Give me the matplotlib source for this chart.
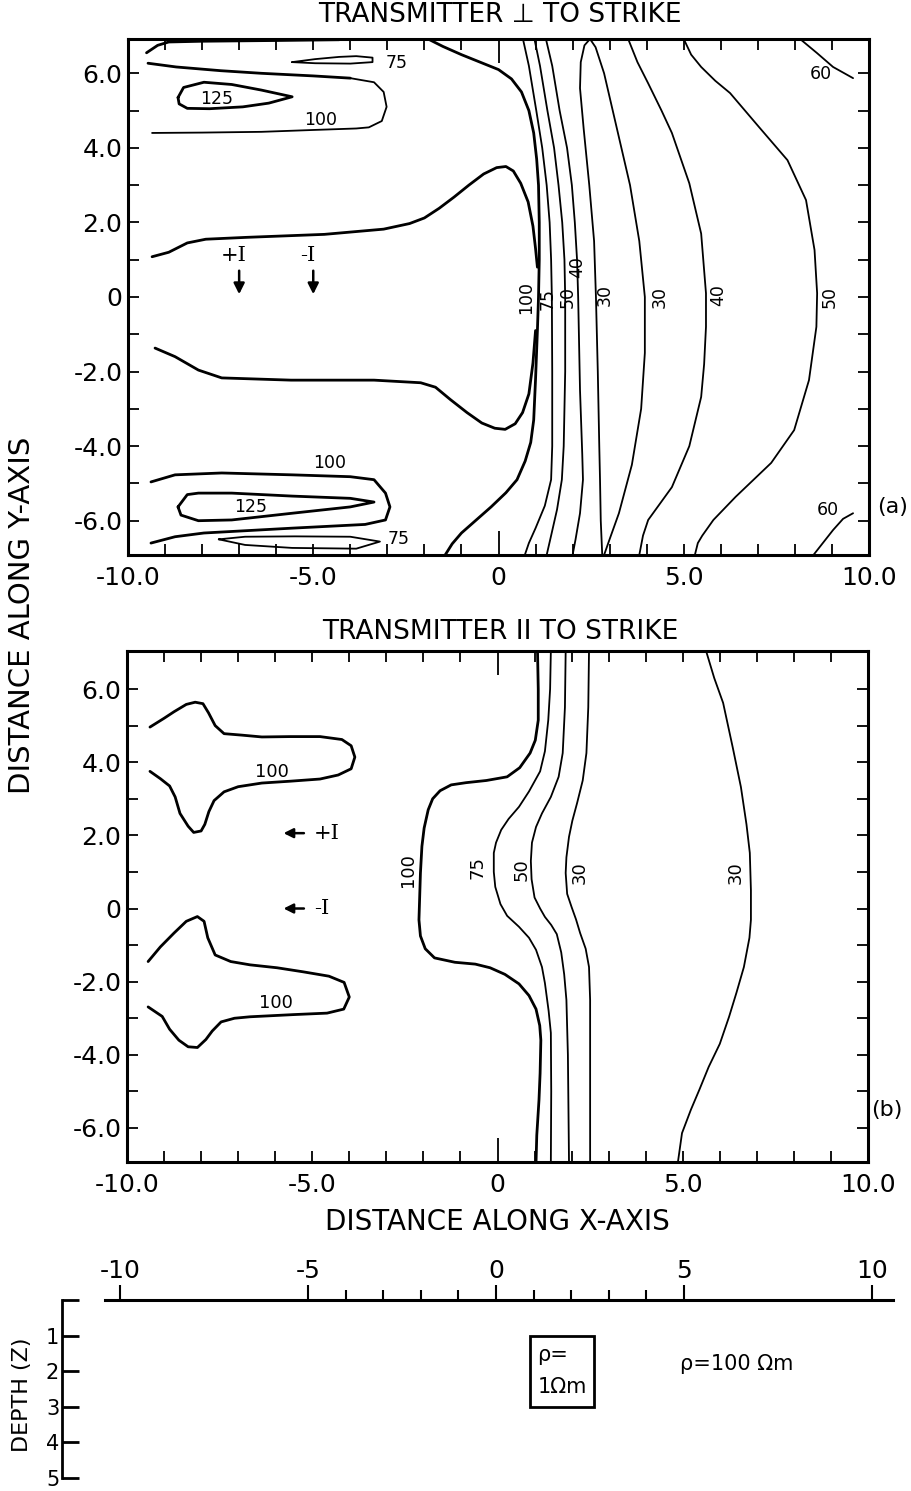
import numpy as np
import matplotlib.pyplot as plt
from matplotlib.patches import Rectangle

# ---- panel (a): transmitter perpendicular to strike, contour lines ----
a_100_edge = [(-9.5, 6.55), (-9.2, 6.75), (-8.9, 6.84), (-8.0, 6.86), (-6.0, 6.88), (-4.3, 6.9)]
a_100_upper_thick = [(-9.46, 6.27), (-8.7, 6.17), (-7.5, 6.07), (-6.4, 6.0), (-5.0, 5.93), (-4.0, 5.87)]
a_100_upper_thin = [(-4.0, 5.87), (-3.36, 5.76), (-3.1, 5.5), (-3.02, 5.1), (-3.15, 4.72), (-3.5, 4.55),
                    (-3.84, 4.52), (-5.0, 4.48), (-6.4, 4.43), (-8.0, 4.41), (-9.35, 4.4)]
a_125_top = [(-8.65, 5.35), (-8.5, 5.62), (-7.95, 5.76), (-7.2, 5.7), (-6.4, 5.55), (-5.57, 5.37),
             (-6.2, 5.2), (-6.9, 5.1), (-7.8, 5.05), (-8.4, 5.06), (-8.62, 5.18), (-8.65, 5.35)]
a_75_top = [(-5.57, 6.3), (-4.95, 6.38), (-4.3, 6.44), (-3.84, 6.46), (-3.4, 6.42), (-3.4, 6.3),
            (-4.0, 6.26), (-4.95, 6.27), (-5.57, 6.3)]
a_100_shield_up = [(-9.35, 1.08), (-8.9, 1.2), (-8.4, 1.45), (-7.9, 1.55), (-6.8, 1.6), (-4.7, 1.68),
                   (-3.1, 1.82), (-2.4, 1.97), (-2.0, 2.12), (-1.6, 2.38), (-1.2, 2.68), (-0.8, 3.0),
                   (-0.4, 3.3), (-0.05, 3.47), (0.2, 3.5), (0.4, 3.38), (0.6, 3.05), (0.8, 2.55),
                   (0.93, 1.9), (1.0, 1.3), (1.05, 0.8)]
a_100_main = [(-1.9, 6.92), (-1.5, 6.72), (-1.0, 6.5), (-0.5, 6.3), (0.0, 6.1), (0.35, 5.85),
              (0.62, 5.5), (0.82, 5.0), (0.95, 4.4), (1.03, 3.7), (1.08, 3.0), (1.1, 2.0), (1.1, 1.0),
              (1.08, 0.0), (1.05, -0.9), (1.0, -2.2), (0.95, -3.3), (0.87, -3.9), (0.72, -4.4),
              (0.5, -4.9), (0.2, -5.25), (-0.2, -5.63), (-0.6, -5.98), (-1.0, -6.33), (-1.25, -6.62),
              (-1.44, -6.92)]
a_100_shield_low = [(-9.27, -1.37), (-8.73, -1.6), (-8.1, -1.96), (-7.47, -2.17), (-5.6, -2.23),
                    (-3.36, -2.23), (-2.1, -2.3), (-1.7, -2.42), (-1.3, -2.75), (-0.85, -3.1),
                    (-0.45, -3.38), (-0.1, -3.52), (0.18, -3.55), (0.45, -3.4), (0.65, -3.1),
                    (0.82, -2.6), (0.93, -1.77), (1.0, -0.9)]
a_100_bottom = [(-9.38, -4.96), (-8.73, -4.77), (-7.47, -4.72), (-5.57, -4.77), (-4.0, -4.82),
                (-3.36, -4.9), (-3.05, -5.26), (-2.93, -5.63), (-3.05, -5.98), (-3.6, -6.1),
                (-5.57, -6.2), (-7.95, -6.33), (-8.73, -6.43), (-9.38, -6.6)]
a_125_bottom = [(-8.65, -5.63), (-8.4, -5.3), (-8.1, -5.26), (-7.2, -5.26), (-5.57, -5.34), (-4.0, -5.4),
                (-3.36, -5.5), (-4.0, -5.63), (-5.57, -5.8), (-7.2, -5.98), (-8.1, -6.0),
                (-8.57, -5.85), (-8.65, -5.63)]
a_75_bottom = [(-7.55, -6.5), (-6.84, -6.43), (-5.5, -6.42), (-4.0, -6.43), (-3.2, -6.56),
               (-3.84, -6.75), (-5.57, -6.73), (-6.84, -6.65), (-7.55, -6.5)]
a_75 = [(0.66, 6.92), (0.82, 6.2), (1.02, 5.0), (1.18, 4.0), (1.3, 3.0), (1.38, 2.0), (1.42, 1.0),
        (1.44, 0.0), (1.45, -2.0), (1.45, -4.0), (1.42, -4.9), (1.25, -5.6), (1.0, -6.2),
        (0.82, -6.6), (0.71, -6.92)]
a_50 = [(0.97, 6.92), (1.12, 6.2), (1.32, 5.0), (1.5, 4.0), (1.62, 3.0), (1.72, 2.0), (1.78, 1.0),
        (1.8, 0.0), (1.8, -2.0), (1.76, -4.0), (1.71, -4.9), (1.58, -5.7), (1.42, -6.4), (1.3, -6.92)]
a_40 = [(1.28, 6.92), (1.45, 6.2), (1.65, 5.0), (1.85, 4.0), (1.98, 3.0), (2.06, 2.0), (2.12, 1.0),
        (2.15, 0.0), (2.2, -2.5), (2.26, -4.2), (2.28, -4.9), (2.2, -5.8), (2.08, -6.5), (2.0, -6.92)]
a_30_loop = [(2.8, -6.92), (2.76, -6.0), (2.74, -4.9), (2.72, -4.0), (2.68, -2.0), (2.63, 0.0),
             (2.58, 1.5), (2.45, 3.0), (2.3, 4.5), (2.2, 5.6), (2.22, 6.3), (2.32, 6.75), (2.47, 6.92),
             (2.62, 6.7), (2.85, 6.0), (3.2, 4.5), (3.55, 3.0), (3.8, 1.5), (3.95, 0.0), (3.95, -1.5),
             (3.85, -3.0), (3.6, -4.5), (3.25, -5.8), (2.98, -6.55), (2.85, -6.92)]
a_40_right = [(3.5, 6.92), (3.75, 6.3), (4.04, 5.73), (4.4, 5.0), (4.68, 4.4), (5.15, 3.05),
              (5.47, 1.7), (5.6, 0.1), (5.6, -0.8), (5.55, -1.8), (5.47, -2.68), (5.15, -4.0),
              (4.68, -5.1), (4.04, -5.98), (3.9, -6.4), (3.8, -6.92)]
a_50_right = [(5.0, 6.92), (5.2, 6.5), (5.47, 6.17), (5.85, 5.8), (6.25, 5.47), (7.03, 4.56),
              (7.8, 3.67), (8.3, 2.6), (8.53, 1.26), (8.6, 0.1), (8.58, -0.8), (8.38, -2.23),
              (7.98, -3.57), (7.36, -4.45), (6.4, -5.36), (5.8, -5.98), (5.5, -6.4), (5.38, -6.6),
              (5.3, -6.92)]
a_60_top = [(8.14, 6.92), (8.6, 6.54), (9.03, 6.17), (9.57, 5.87)]
a_60_bottom = [(8.5, -6.92), (9.03, -6.25), (9.3, -5.95), (9.57, -5.8)]

a_thick = [a_100_edge, a_100_upper_thick, a_125_top, a_100_shield_up, a_100_main,
           a_100_shield_low, a_100_bottom, a_125_bottom]
a_thin = [a_100_upper_thin, a_75_top, a_75_bottom, a_75, a_50, a_40, a_30_loop,
          a_40_right, a_50_right, a_60_top, a_60_bottom]

# label text, x, y, rotation
a_labels = [("75", -2.75, 6.27, 0), ("125", -7.6, 5.3, 0), ("100", -4.8, 4.75, 0),
            ("60", 8.7, 5.98, 0), ("100", -4.55, -4.45, 0), ("125", -6.7, -5.63, 0),
            ("75", -2.7, -6.5, 0), ("60", 8.9, -5.7, 0),
            ("100", 0.74, 0.0, 90), ("75", 1.32, -0.05, 90), ("50", 1.87, 0.0, 90), ("40", 2.12, 0.8, 90),
            ("30", 2.87, 0.05, 90), ("30", 4.36, 0.0, 90), ("40", 5.93, 0.05, 90), ("50", 8.93, 0.0, 90)]
a_source_x = [-7.0, -5.0]
a_source_txt = ["+I", "-I"]

# ---- panel (b): transmitter parallel to strike ----
b_100_up = [(-9.38, 4.96), (-9.0, 5.2), (-8.73, 5.38), (-8.4, 5.58), (-8.16, 5.64), (-7.95, 5.6),
            (-7.8, 5.35), (-7.62, 5.0), (-7.38, 4.78), (-6.9, 4.74), (-6.36, 4.69), (-5.6, 4.7),
            (-4.79, 4.7), (-4.2, 4.62), (-3.95, 4.45), (-3.85, 4.14), (-3.95, 3.82), (-4.3, 3.65),
            (-4.79, 3.54), (-5.6, 3.48), (-6.36, 3.43), (-7.0, 3.33), (-7.38, 3.19), (-7.65, 2.95),
            (-7.79, 2.65), (-7.9, 2.3), (-8.0, 2.12), (-8.2, 2.08), (-8.35, 2.25), (-8.57, 2.6),
            (-8.7, 3.05), (-8.85, 3.35), (-9.1, 3.55), (-9.38, 3.75)]
b_100_low = [(-9.43, -1.45), (-9.1, -1.05), (-8.73, -0.67), (-8.4, -0.35), (-8.1, -0.22), (-7.92, -0.35),
             (-7.82, -0.8), (-7.62, -1.27), (-7.2, -1.45), (-6.68, -1.54), (-5.95, -1.62),
             (-5.25, -1.73), (-4.55, -1.85), (-4.14, -2.02), (-4.0, -2.42), (-4.15, -2.75),
             (-4.6, -2.86), (-5.5, -2.9), (-6.68, -2.96), (-7.1, -3.0), (-7.46, -3.1), (-7.7, -3.35),
             (-7.87, -3.58), (-8.1, -3.8), (-8.35, -3.78), (-8.6, -3.6), (-8.85, -3.3),
             (-9.05, -2.95), (-9.43, -2.69)]
b_100 = [(1.08, 7.04), (1.1, 6.0), (1.1, 5.15), (1.02, 4.6), (0.88, 4.25), (0.6, 3.85), (0.26, 3.6),
         (-0.3, 3.5), (-0.85, 3.44), (-1.25, 3.38), (-1.55, 3.22), (-1.75, 3.0), (-1.87, 2.7),
         (-1.98, 2.2), (-2.04, 1.7), (-2.08, 0.97), (-2.12, -0.31), (-2.08, -0.75), (-1.95, -1.1),
         (-1.7, -1.35), (-1.15, -1.47), (-0.6, -1.52), (-0.2, -1.62), (0.2, -1.8), (0.58, -2.06),
         (0.85, -2.38), (1.04, -2.75), (1.14, -3.2), (1.17, -3.6), (1.15, -4.5), (1.12, -5.23),
         (1.06, -6.2), (1.04, -6.93)]
b_75 = [(1.44, 7.04), (1.42, 6.0), (1.37, 5.15), (1.28, 4.3), (1.15, 3.75), (0.85, 3.2), (0.58, 2.78),
        (0.3, 2.45), (0.1, 2.15), (-0.04, 1.8), (-0.1, 1.52), (-0.1, 1.0), (-0.06, 0.59),
        (0.08, 0.12), (0.26, -0.2), (0.58, -0.5), (0.85, -0.8), (1.04, -1.13), (1.2, -1.6),
        (1.28, -2.04), (1.38, -2.8), (1.44, -3.4), (1.45, -5.0), (1.44, -6.93)]
b_50 = [(1.84, 7.04), (1.82, 5.5), (1.76, 4.25), (1.65, 3.6), (1.44, 3.05), (1.2, 2.6), (1.04, 2.23),
        (0.93, 1.8), (0.9, 1.3), (0.92, 0.8), (1.0, 0.3), (1.15, 0.0), (1.28, -0.23), (1.45, -0.45),
        (1.6, -0.7), (1.72, -1.2), (1.8, -1.8), (1.86, -2.5), (1.9, -4.0), (1.93, -6.93)]
b_30 = [(2.47, 7.04), (2.45, 5.5), (2.4, 4.25), (2.3, 3.5), (2.15, 2.89), (2.02, 2.4), (1.93, 1.96),
        (1.86, 1.4), (1.84, 0.97), (1.88, 0.4), (2.0, 0.04), (2.12, -0.3), (2.23, -0.67),
        (2.38, -1.1), (2.47, -1.6), (2.5, -2.5), (2.5, -6.93)]
b_30_right = [(5.63, 7.04), (5.85, 6.3), (6.09, 5.62), (6.35, 4.4), (6.57, 3.32), (6.72, 2.3),
              (6.81, 1.52), (6.84, 0.5), (6.84, -0.31), (6.8, -0.8), (6.65, -1.6), (6.45, -2.3),
              (6.25, -2.96), (6.0, -3.7), (5.7, -4.33), (5.45, -4.95), (5.22, -5.5), (4.98, -6.14),
              (4.87, -6.93)]

b_thick = [b_100_up, b_100_low, b_100]
b_thin = [b_75, b_50, b_30, b_30_right]
b_labels = [("100", -6.1, 3.72, 0), ("100", -5.98, -2.58, 0), ("100", -2.42, 1.05, 90),
            ("75", -0.53, 1.13, 90), ("50", 0.66, 1.05, 90), ("30", 2.23, 0.97, 90),
            ("30", 6.44, 0.97, 90)]
b_source_y = [2.06, 0.0]
b_source_txt = ["+I", "-I"]

# ---- depth section ----
depth_xticks = [-10, -5, 0, 5, 10]
depth_minor = [-4, -3, -2, -1, 1, 2, 3, 4]
depth_ticks = [0, 1, 2, 3, 4, 5]
body_x = (0.9, 2.6)
body_z = (1.0, 3.0)

W, H = 911, 1491
fig = plt.figure(figsize=(W / 100, H / 100), dpi=100)
plt.rcParams['font.family'] = ['DejaVu Sans']


def add_ax(left, top, right, bottom):
    return fig.add_axes([left / W, 1 - bottom / H, (right - left) / W, (bottom - top) / H])


def draw_lines(ax, lines, lw):
    for pts in lines:
        xy = np.array(pts)
        ax.plot(xy[:, 0], xy[:, 1], color='k', lw=lw, solid_capstyle='round', solid_joinstyle='round')


def style_map(ax, ylim):
    ax.set_xlim(-10, 10)
    ax.set_ylim(*ylim)
    xl = {-10: '-10.0', -5: '-5.0', 0: '0', 5: '5.0', 10: '10.0'}
    ax.set_xticks(np.arange(-10, 11))
    ax.set_xticklabels([xl.get(v, '') for v in range(-10, 11)])
    ax.set_yticks(np.arange(-6, 7))
    ax.set_yticklabels([('0' if v == 0 else '%.1f' % v) if v % 2 == 0 else '' for v in range(-6, 7)])
    ax.tick_params(direction='in', length=8, width=1.3, top=True, right=True, labelsize=18)
    ax.tick_params(axis='x', pad=8)
    ax.tick_params(axis='y', pad=4)
    for s in ax.spines.values():
        s.set_linewidth(2.2)
    for t in ax.xaxis.get_major_ticks():
        if t.get_loc() == 0:
            t.tick1line.set_markersize(17)
            t.tick2line.set_markersize(17)


# panel (a)
ax1 = add_ax(128, 39, 869, 555)
style_map(ax1, (-6.92, 6.92))
draw_lines(ax1, a_thick, 2.0)
draw_lines(ax1, a_thin, 1.3)
for txt, x, y, rot in a_labels:
    ax1.text(x, y, txt, rotation=rot, ha='center', va='center', fontsize=12.5)
for x, txt in zip(a_source_x, a_source_txt):
    ax1.annotate('', xy=(x, 0.0), xytext=(x, 0.78),
                 arrowprops=dict(arrowstyle='-|>', color='k', lw=1.8, mutation_scale=16))
    ax1.text(x - 0.15, 1.1, txt, ha='center', va='center', fontsize=15, family='DejaVu Serif')

# panel (b)
ax2 = add_ax(127, 651, 868, 1162)
style_map(ax2, (-6.93, 7.04))
draw_lines(ax2, b_thick, 2.0)
draw_lines(ax2, b_thin, 1.3)
for txt, x, y, rot in b_labels:
    ax2.text(x, y, txt, rotation=rot, ha='center', va='center', fontsize=13)
for y, txt in zip(b_source_y, b_source_txt):
    ax2.annotate('', xy=(-5.85, y), xytext=(-5.15, y),
                 arrowprops=dict(arrowstyle='-|>', color='k', lw=1.8, mutation_scale=14))
    ax2.text(-4.95, y, txt, ha='left', va='center', fontsize=15, family='DejaVu Serif')

# depth section
ax3 = add_ax(62, 1300, 900, 1478)
ax3.set_xlim(-11.54, 10.74)
ax3.set_ylim(5, 0)
ax3.spines['right'].set_visible(False)
ax3.spines['bottom'].set_visible(False)
ax3.spines['top'].set_bounds(-10.4, 10.56)
ax3.spines['top'].set_linewidth(2.2)
ax3.spines['left'].set_bounds(0, 5)
ax3.spines['left'].set_linewidth(2.0)
ax3.xaxis.tick_top()
ax3.set_xticks(depth_xticks)
ax3.set_xticklabels([str(v) for v in depth_xticks])
ax3.set_xticks(depth_minor, minor=True)
ax3.tick_params(axis='x', which='major', direction='out', length=11, width=1.5, labelsize=18, pad=1)
ax3.tick_params(axis='x', which='minor', direction='out', length=7, width=1.5)
ax3.set_yticks(depth_ticks)
ax3.set_yticklabels(['' if v == 0 else str(v) for v in depth_ticks])
ax3.tick_params(axis='y', direction='in', length=12, width=2.0, labelsize=15, pad=2)
ax3.add_patch(Rectangle((body_x[0], body_z[0]), body_x[1] - body_x[0], body_z[1] - body_z[0],
                        fill=False, lw=2.0, color='k'))
ax3.text(body_x[0] + 0.2, body_z[0] + 0.55, 'ρ=', fontsize=15, va='center', ha='left')
ax3.text(body_x[0] + 0.2, body_z[0] + 1.45, '1Ωm', fontsize=15, va='center', ha='left')
ax3.text(4.9, 1.8, 'ρ=100 Ωm', fontsize=15, va='center', ha='left')

# figure texts
fig.text(500 / W, 1 - 15 / H, 'TRANSMITTER ⊥ TO STRIKE', ha='center', va='center', fontsize=19)
fig.text(500 / W, 1 - 632 / H, 'TRANSMITTER II TO STRIKE', ha='center', va='center', fontsize=19)
fig.text(22 / W, 1 - 615 / H, 'DISTANCE ALONG Y-AXIS', rotation=90, ha='center', va='center', fontsize=21)
fig.text(497 / W, 1 - 1222 / H, 'DISTANCE ALONG X-AXIS', ha='center', va='center', fontsize=20)
fig.text(893 / W, 1 - 507 / H, '(a)', ha='center', va='center', fontsize=16)
fig.text(887 / W, 1 - 1110 / H, '(b)', ha='center', va='center', fontsize=16)
fig.text(22 / W, 1 - 1395 / H, 'DEPTH (Z)', rotation=90, ha='center', va='center', fontsize=16)

fig.savefig('out.png', dpi=100)
